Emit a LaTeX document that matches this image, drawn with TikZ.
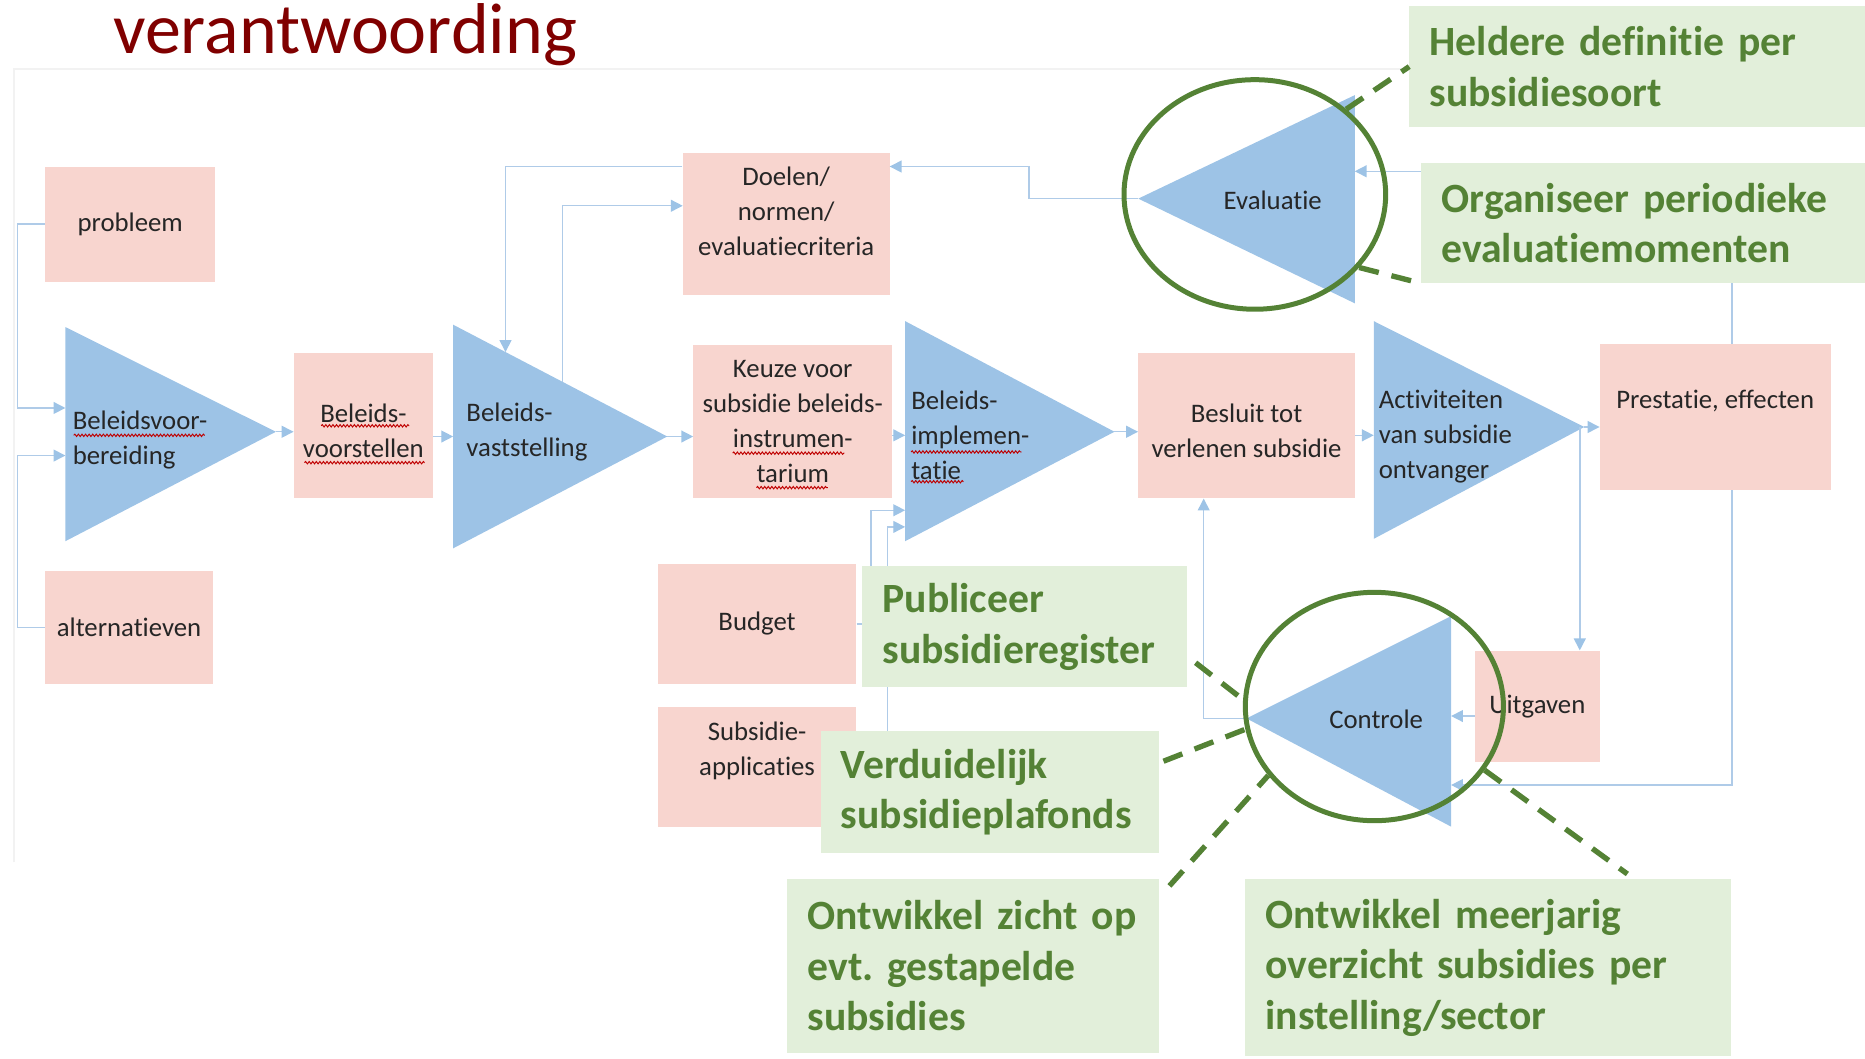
\documentclass[tikz,border=0pt]{standalone}
\usepackage{fontspec}
\setmainfont{Carlito}[Ligatures=NoCommon]
\usepackage{tikz}
\usetikzlibrary{arrows.meta,calc,shapes.geometric,decorations.pathmorphing}
\definecolor{boxpink}{HTML}{F8D5CF}
\definecolor{triblue}{HTML}{9DC3E6}
\definecolor{connblue}{HTML}{AFCBE8}
\definecolor{notegreen}{HTML}{E2EFDA}
\definecolor{notetext}{HTML}{548235}
\definecolor{titlered}{HTML}{800000}
\definecolor{txtdark}{HTML}{262626}
\tikzset{
	box/.style={fill=boxpink, draw=none, inner sep=0pt, align=center, text=txtdark,
			font=\fontsize{22.5}{29.5}\selectfont},
	tri/.style={fill=triblue, draw=none},
	trilabel/.style={inner sep=0pt, align=left, text=txtdark,
			font=\fontsize{22.5}{29.5}\selectfont},
	conn/.style={draw=connblue, line width=1.2pt,
			-{Triangle[length=10pt,width=10pt,color=triblue]}},
	note/.style={fill=notegreen, draw=none, inner xsep=17pt, inner ysep=0pt, align=left,
			text=notetext, font=\fontsize{35}{42.5}\selectfont\bfseries},
	ring/.style={ellipse, draw=notetext, line width=4.2pt, inner sep=0pt},
	pointer/.style={draw=notetext, line width=4.5pt, dash pattern=on 17pt off 11pt},
	squiggle/.style={draw=red!75!black, line width=0.8pt, decorate,
			decoration={snake, amplitude=1pt, segment length=3pt}}
}

\begin{document}
\begin{tikzpicture}[x=1pt, y=-1pt]
		\useasboundingbox (0,0) rectangle (1568,890);
		\draw [black!5, line width=1.5pt]	(12,725) -- (12,58) -- (1568,58);
		\node [anchor=base west, inner sep=0pt, text=titlered,
			font=\fontsize{60.5}{70}\selectfont] (title) at (95,45) {verantwoording};

		\fill [tri]	(55,275) coordinate (bvb-nw) -- (232,363) coordinate (bvb-tip) -- (55,455) -- cycle;
		\fill [tri]	(381,273) coordinate (bvs-nw) -- (561,367) coordinate (bvs-tip) -- (381,461) -- cycle;
		\fill [tri]	(761,270) coordinate (bim-nw) -- (937,363) coordinate (bim-tip) -- (761,455) -- cycle;
		\fill [tri]	(1155,270) coordinate (act-nw) -- (1332,359) coordinate (act-tip) -- (1155,453) -- cycle;
		\fill [tri]	(1139,80) coordinate (eval-ne) -- (957,167) coordinate (eval-tip) -- (1139,255) -- cycle;
		\fill [tri]	(1220,518) coordinate (ctrl-ne) -- (1048,604) coordinate (ctrl-tip) -- (1220,695) -- cycle;

		\node [trilabel, anchor=west] (bvb-label) at (61,370) {Beleidsvoor-\\bereiding};
		\node [trilabel, anchor=west] (bvs-label) at (392,363) {Beleids-\\vaststelling};
		\node [trilabel, anchor=west] (bim-label) at (766,366) {Beleids-\\implemen-\\tatie};
		\node [trilabel, anchor=west] (act-label) at (1159,367) {Activiteiten\\van subsidie\\ontvanger};
		\node [trilabel] (eval-label) at (1070,168) {Evaluatie};
		\node [trilabel] (ctrl-label) at (1157,605) {Controle};

		\node [box, minimum width=143pt, minimum height=97pt] (probleem) at (109.5,188.5) {probleem};
		\node [box, minimum width=141pt, minimum height=95pt] (altern) at (108.5,527.5) {alternatieven};
		\node [box, minimum width=117pt, minimum height=122pt] (voorstel) at (305.5,358) {\mbox{}\\[-5pt]Beleids-\\voorstellen};
		\node [box, minimum width=174pt, minimum height=119pt] (doelen) at (661,188.5) {Doelen/\\normen/\\evaluatiecriteria\\[-8pt]\mbox{}};
		\node [box, minimum width=167pt, minimum height=129pt] (keuze) at (666.5,354.5) {Keuze voor\\subsidie beleids-\\instrumen-\\tarium};
		\node [box, minimum width=182pt, minimum height=122pt] (besluit) at (1048,358) {\mbox{}\\[-5pt]Besluit tot\\verlenen subsidie};
		\node [box, minimum width=194pt, minimum height=123pt] (prestatie) at (1442,350.5) {Prestatie, effecten\\\mbox{}};
		\node [box, minimum width=167pt, minimum height=101pt] (budget) at (636.5,524.5) {Budget};
		\node [box, minimum width=167pt, minimum height=101pt] (applic) at (636.5,644.5) {Subsidie-\\applicaties\\\mbox{}};
		\node [box, minimum width=105pt, minimum height=94pt] (uitgaven) at (1292.5,594) {Uitgaven};

		\draw [squiggle]	(62,366) -- (172,366);
		\draw [squiggle]	(270,358) -- (344,358);
		\draw [squiggle]	(256,389) -- (357,389);
		\draw [squiggle]	(616,381) -- (710,381);
		\draw [squiggle]	(636,410) -- (696,410);
		\draw [squiggle]	(766,380) -- (859,380);
		\draw [squiggle]	(766,405) -- (810,405);

		\coordinate (bvb-in1) at (55,343);
		\coordinate (bvb-in2) at (55,383);
		\coordinate (bvs-in) at (381,367);
		\coordinate (bvs-up1) at (425,296);
		\coordinate (bvs-up2) at (473,321);
		\coordinate (bim-in) at (761,366);
		\coordinate (bim-in1) at (761,429);
		\coordinate (bim-in2) at (761,443);
		\coordinate (act-in) at (1155,366);
		\coordinate (eval-in) at (1139,144);
		\coordinate (ctrl-in1) at (1220,602);
		\coordinate (ctrl-in2) at (1220,660);
		\coordinate (doel-in) at (748,140);
		\coordinate (doel-in2) at (574,173);
		\coordinate (uit-in) at ([xshift=-17pt]uitgaven.north east);
		\coordinate (besluit-out) at ([xshift=-36pt]besluit.south);
		\coordinate (pres-out) at ([xshift=14pt]prestatie.south);
		\coordinate (pres-top) at ([xshift=14pt]prestatie.north);

		\draw [conn]	(probleem.west) -- ++(-23,0) |- (bvb-in1);
		\draw [conn]	(altern.west) -- ++(-23,0) |- (bvb-in2);
		\draw [conn]	(bvb-tip) -- (bvb-tip -| voorstel.west);
		\draw [conn]	(voorstel.east |- bvs-in) -- (bvs-in);
		\draw [conn]	(bvs-tip) -- (bvs-tip -| keuze.west);
		\draw [conn]	(keuze.east |- bim-in) -- (bim-in);
		\draw [conn]	(bim-tip) -- (bim-tip -| besluit.west);
		\draw [conn]	(besluit.east |- act-in) -- (act-in);
		\draw [conn]	(act-tip) -- (act-tip -| prestatie.west);
		\draw [conn]	(act-tip -| uit-in) -- (uit-in);
		\draw [conn]	(uitgaven.west |- ctrl-in1) -- (ctrl-in1);
		\draw [conn]	(ctrl-tip) -| (besluit-out);
		\draw [conn]	(pres-out) |- (ctrl-in2);
		\draw [conn]	(pres-top) |- (eval-in);
		\draw [conn]	(eval-tip) -- ++(-92,0) |- (doel-in);
		\draw [conn]	(doelen.west |- doel-in) -| (bvs-up1);
		\draw [conn]	(bvs-up2) |- (doel-in2);
		\draw [conn]	(budget.east) -- ++(12,0) |- (bim-in1);
		\draw [conn]	(applic.east) -- ++(26,0) |- (bim-in2);

		\node [ring, minimum width=220pt, minimum height=193pt] (eval-ring) at (1055,163.5) {};
		\node [ring, minimum width=217pt, minimum height=192pt] (ctrl-ring) at (1155.5,594) {};

		\node [note, text width=381pt, minimum height=102pt] (heldere) at (1392.5,56) {Heldere definitie per\\subsidiesoort};
		\node [note, text width=371pt, minimum height=101pt] (organ) at (1397.5,187.5) {Organiseer periodieke\\evaluatiemomenten};
		\node [note, text width=239pt, minimum height=102pt] (publ) at (861.5,527) {Publiceer\\subsidieregister};
		\node [note, text width=250pt, minimum height=102pt] (verd) at (832,666) {Verduidelijk\\subsidieplafonds};
		\node [note, text width=278pt, minimum height=146pt] (zicht) at (818,812) {Ontwikkel~zicht~op\\evt.~gestapelde\\subsidies};
		\node [note, text width=374pt, minimum height=149pt] (meerj) at (1251,813.5) {Ontwikkel~meerjarig\\overzicht~subsidies~per\\instelling/sector};

		\draw [pointer]	(eval-ring.43) -- (heldere.west);
		\draw [pointer]	(eval-ring.-35) -- (organ.south west);
		\draw [pointer]	($(publ.south east)+(7,-21)$) -- (ctrl-ring.177);
		\draw [pointer]	($(verd.east)+(4,-26)$) -- (ctrl-ring.190);
		\draw [pointer]	($(zicht.north east)+(9,6)$) -- (ctrl-ring.213);
		\draw [pointer]	(ctrl-ring.-30) -- ($(meerj.north east)+(-87,-4)$);
	\end{tikzpicture}
\end{document}
